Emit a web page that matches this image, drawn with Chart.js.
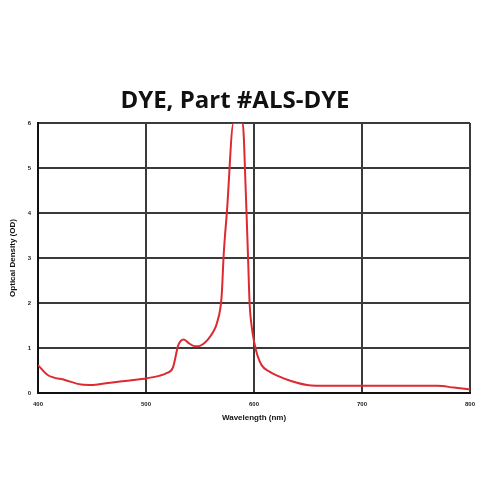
<!DOCTYPE html>
<html>
<head>
<meta charset="utf-8">
<script src="https://cdn.jsdelivr.net/npm/chart.js@4"></script>
<style>
  html, body { margin: 0; padding: 0; background: #fff; }
  #wrap { width: 500px; height: 500px; }
</style>
</head>
<body>
<div id="wrap"><canvas id="odChart" width="500" height="500"></canvas></div>
<script>
// values
const wavelengths = [400, 409, 425, 440, 451, 467, 485, 501, 512, 519, 525, 530, 535, 540, 545, 549, 553, 557, 562, 566, 570, 572, 575, 581, 589.5, 592.5, 594.5, 596, 598, 600, 603, 607, 614, 622, 635, 649, 670, 698, 740, 770, 785, 800];
const opticalDensity = [0.62, 0.40, 0.29, 0.19, 0.18, 0.23, 0.28, 0.33, 0.38, 0.44, 0.57, 1.07, 1.19, 1.10, 1.04, 1.04, 1.09, 1.18, 1.35, 1.58, 2.14, 3.10, 4.05, 6.00, 6.00, 4.40, 3.00, 1.96, 1.45, 1.15, 0.85, 0.62, 0.48, 0.38, 0.26, 0.18, 0.16, 0.16, 0.16, 0.16, 0.12, 0.08];
const xTicks = [400, 500, 600, 700, 800];
const yTicks = [0, 1, 2, 3, 4, 5, 6];

const points = wavelengths.map((w, i) => ({ x: w, y: opticalDensity[i] }));
const gridColor = '#3a3a3a';

const ctx = document.getElementById('odChart').getContext('2d');
new Chart(ctx, {
    type: 'line',
    data: {
        datasets: [{
            label: 'DYE',
            data: points,
            borderColor: '#dd2a30',
            borderWidth: 2,
            pointRadius: 0,
            fill: false,
            cubicInterpolationMode: 'monotone'
        }]
    },
    options: {
        responsive: false,
        animation: false,
        layout: { padding: { left: 0, right: 30, top: 0, bottom: 77 } },
        plugins: {
            legend: { display: false },
            tooltip: { enabled: false },
            title: {
                display: true,
                text: 'DYE, Part #ALS-DYE',
                color: '#111',
                font: { family: 'Open Sans', size: 24, weight: 'bold', lineHeight: 1.2 },
                padding: { top: 87, bottom: 7.2 }
            }
        },
        scales: {
            x: {
                type: 'linear',
                min: 400,
                max: 800,
                afterBuildTicks: (scale) => { scale.ticks = xTicks.map(v => ({ value: v })); },
                afterFit: (scale) => { scale.height = 30; },
                grid: { color: gridColor, lineWidth: 2, drawTicks: false },
                border: { color: '#111', width: 2 },
                ticks: {
                    color: '#222',
                    padding: 8,
                    font: { family: 'Liberation Sans', size: 6, weight: 'bold' }
                },
                title: {
                    display: true,
                    text: 'Wavelength (nm)',
                    color: '#111',
                    font: { family: 'Liberation Sans', size: 8, weight: 'bold' },
                    padding: { top: 4, bottom: 0 }
                }
            },
            y: {
                min: 0,
                max: 6,
                afterBuildTicks: (scale) => { scale.ticks = yTicks.map(v => ({ value: v })); },
                afterFit: (scale) => { scale.width = 38; },
                grid: { color: gridColor, lineWidth: 2, drawTicks: false },
                border: { color: '#111', width: 2 },
                ticks: {
                    color: '#222',
                    padding: 7,
                    font: { family: 'Liberation Sans', size: 6, weight: 'bold' }
                },
                title: {
                    display: true,
                    text: 'Optical Density (OD)',
                    color: '#111',
                    font: { family: 'Liberation Sans', size: 8, weight: 'bold' },
                    padding: { top: 8, bottom: 0 }
                }
            }
        }
    }
});
</script>
</body>
</html>
